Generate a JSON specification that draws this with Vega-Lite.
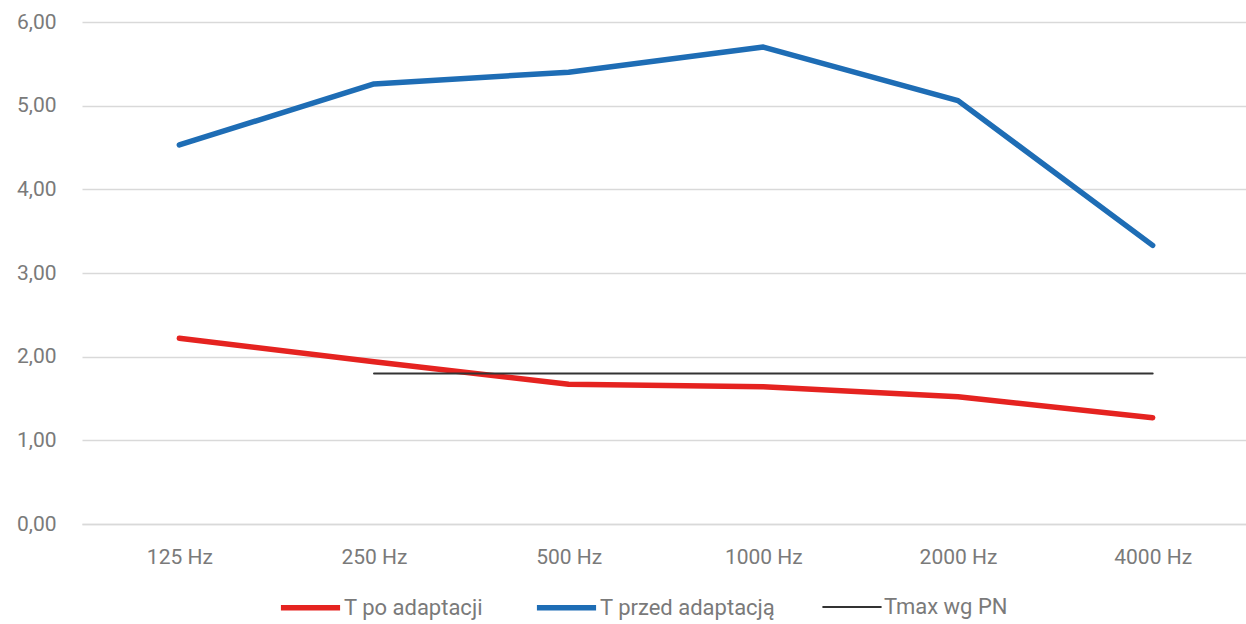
{
  "$schema": "https://vega.github.io/schema/vega-lite/v6.json",
  "autosize": {"type": "none"},
  "width": 1168,
  "height": 502,
  "padding": {"left": 82, "top": 22, "right": 0, "bottom": 100},
  "background": "white",
  "data": {
    "values": [
      {"freq": "125 Hz", "series": "T po adaptacji", "value": 2.22},
      {"freq": "250 Hz", "series": "T po adaptacji", "value": 1.94},
      {"freq": "500 Hz", "series": "T po adaptacji", "value": 1.67},
      {"freq": "1000 Hz", "series": "T po adaptacji", "value": 1.64},
      {"freq": "2000 Hz", "series": "T po adaptacji", "value": 1.52},
      {"freq": "4000 Hz", "series": "T po adaptacji", "value": 1.27},
      {"freq": "125 Hz", "series": "T przed adaptacją", "value": 4.53},
      {"freq": "250 Hz", "series": "T przed adaptacją", "value": 5.26},
      {"freq": "500 Hz", "series": "T przed adaptacją", "value": 5.40},
      {"freq": "1000 Hz", "series": "T przed adaptacją", "value": 5.70},
      {"freq": "2000 Hz", "series": "T przed adaptacją", "value": 5.06},
      {"freq": "4000 Hz", "series": "T przed adaptacją", "value": 3.33},
      {"freq": "250 Hz", "series": "Tmax wg PN", "value": 1.8},
      {"freq": "500 Hz", "series": "Tmax wg PN", "value": 1.8},
      {"freq": "1000 Hz", "series": "Tmax wg PN", "value": 1.8},
      {"freq": "2000 Hz", "series": "Tmax wg PN", "value": 1.8},
      {"freq": "4000 Hz", "series": "Tmax wg PN", "value": 1.8}
    ]
  },
  "mark": {"type": "line", "strokeCap": "round", "strokeJoin": "round"},
  "encoding": {
    "x": {
      "field": "freq",
      "type": "nominal",
      "sort": ["125 Hz", "250 Hz", "500 Hz", "1000 Hz", "2000 Hz", "4000 Hz"],
      "scale": {"paddingInner": 0, "paddingOuter": 0.5},
      "axis": {
        "title": null,
        "labelAngle": 0,
        "ticks": false,
        "domain": true,
        "domainColor": "#d9d9d9",
        "domainWidth": 1.5,
        "grid": false,
        "labelPadding": 22,
        "labelFont": "Roboto, sans-serif",
        "labelFontSize": 21,
        "labelColor": "#7a7a7a"
      }
    },
    "y": {
      "field": "value",
      "type": "quantitative",
      "scale": {"domain": [0, 6], "nice": false},
      "axis": {
        "title": null,
        "values": [0, 1, 2, 3, 4, 5, 6],
        "labelExpr": "replace(format(datum.value, '.2f'), '.', ',')",
        "ticks": false,
        "domain": false,
        "grid": true,
        "gridColor": "#d9d9d9",
        "gridWidth": 1.5,
        "labelPadding": 26,
        "labelFont": "Roboto, sans-serif",
        "labelFontSize": 21,
        "labelColor": "#7a7a7a"
      }
    },
    "color": {
      "field": "series",
      "type": "nominal",
      "scale": {
        "domain": ["T po adaptacji", "T przed adaptacją", "Tmax wg PN"],
        "range": ["#e52320", "#1e6db5", "#333333"]
      },
      "legend": {
        "title": null,
        "orient": "none",
        "legendX": 196,
        "legendY": 553,
        "direction": "horizontal",
        "symbolType": "stroke",
        "symbolSize": 3500,
        "labelFont": "Roboto, sans-serif",
        "labelFontSize": 22,
        "labelColor": "#7a7a7a",
        "labelOffset": 1,
        "labelLimit": 400,
        "columnPadding": 42
      }
    },
    "strokeWidth": {
      "field": "series",
      "type": "ordinal",
      "scale": {
        "type": "ordinal",
        "domain": ["T po adaptacji", "T przed adaptacją", "Tmax wg PN"],
        "range": [5.5, 5.5, 2]
      }
    }
  },
  "config": {"view": {"stroke": null}}
}
